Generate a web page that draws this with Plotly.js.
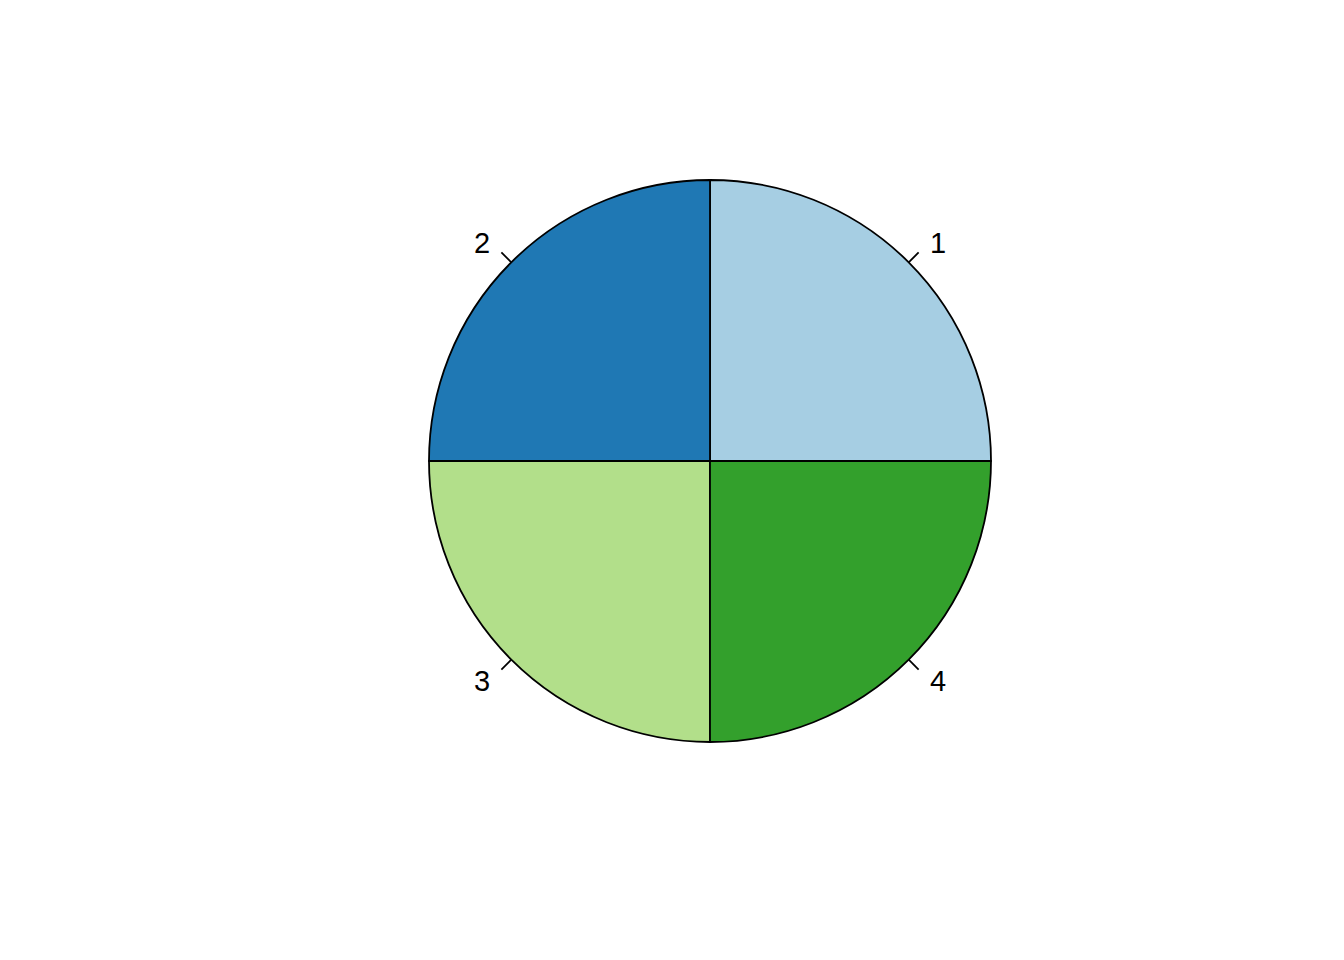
<!DOCTYPE html>
<html><head><meta charset="utf-8">
<script src="https://cdn.plot.ly/plotly-3.0.1.min.js"></script>
<style>html,body{margin:0;padding:0;background:#fff}#chart{width:1344px;height:960px}</style>
</head><body><div id="chart"></div>
<script>
const labels = ["1", "2", "3", "4"];
const values = [1, 1, 1, 1];
const colors = ["#A6CEE3", "#1F78B4", "#B2DF8A", "#33A02C"];

const W = 1344, H = 960, CX = 710, CY = 461, R = 281;

// tick lines and labels computed from the data (R pie style)
const total = values.reduce((a, b) => a + b, 0);
let cum = 0;
const tickX = [], tickY = [];
const annotations = [];
values.forEach((v, i) => {
  const mid = 2 * Math.PI * (cum + v / 2) / total;
  cum += v;
  const c = Math.cos(mid), s = Math.sin(mid);
  tickX.push(c, 1.05 * c, null);
  tickY.push(s, 1.05 * s, null);
  annotations.push({
    x: 1.1 * c, y: 1.1 * s, xref: "x", yref: "y",
    text: labels[i], showarrow: false,
    xanchor: c > 0 ? "left" : "right", yanchor: "middle",
    yshift: -1, borderpad: 0,
    font: { family: "Liberation Sans", size: 29, color: "#000000" }
  });
});

const data = [
  {
    type: "pie",
    labels: labels,
    values: values,
    sort: false,
    direction: "counterclockwise",
    rotation: 0,
    textinfo: "none",
    hoverinfo: "label+value",
    marker: { colors: colors, line: { color: "#000000", width: 1.8 } },
    domain: { x: [(CX - R) / W, (CX + R) / W], y: [1 - (CY + R) / H, 1 - (CY - R) / H] },
    showlegend: false
  },
  {
    type: "scatter", mode: "lines", x: tickX, y: tickY,
    line: { color: "#000000", width: 1.8 }, hoverinfo: "skip", showlegend: false
  }
];

const layout = {
  width: W, height: H,
  margin: { l: 0, r: 0, t: 0, b: 0 },
  paper_bgcolor: "#ffffff", plot_bgcolor: "rgba(0,0,0,0)",
  xaxis: { range: [-CX / R, (W - CX) / R], visible: false, fixedrange: true },
  yaxis: { range: [-(H - CY) / R, CY / R], visible: false, fixedrange: true },
  annotations: annotations,
  showlegend: false
};

Plotly.newPlot("chart", data, layout, { displayModeBar: false, staticPlot: true });
</script></body></html>
